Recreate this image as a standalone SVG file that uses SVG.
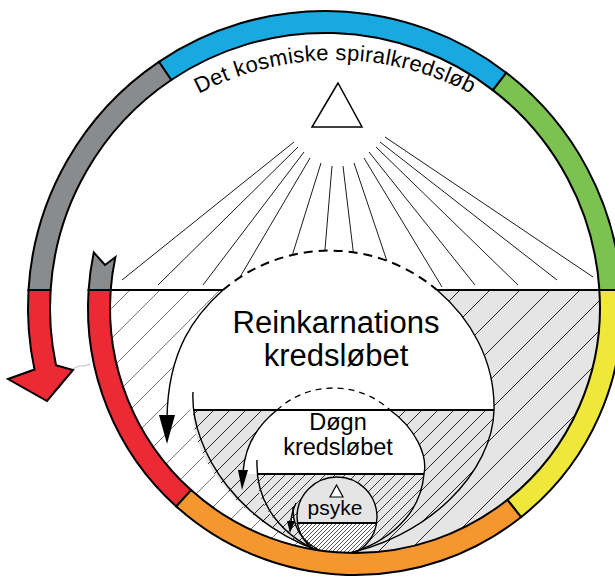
<svg xmlns="http://www.w3.org/2000/svg" width="615" height="582" viewBox="0 0 615 582">
<defs>
<style>
.seg{stroke:#000;stroke-width:2;stroke-linejoin:miter}
.ln{fill:none;stroke:#000;stroke-width:1.8}
.arc{fill:none;stroke:#000;stroke-width:1.4}
.ray{stroke:#000;stroke-width:0.9}
.dash1{fill:none;stroke:#000;stroke-width:2;stroke-dasharray:9 6}
.dash2{fill:none;stroke:#000;stroke-width:1.3;stroke-dasharray:6 5}
.head{fill:#000}
.gray{fill:#e5e5e5}
.white{fill:#fff}
text{font-family:"Liberation Sans",Arial,sans-serif;fill:#000}
</style>
<pattern id="hA" patternUnits="userSpaceOnUse" width="30" height="30"><path d="M-5,5 L5,-5 M0,30 L30,0 M25,35 L35,25" stroke="#111" stroke-width="0.9"/></pattern>
<pattern id="hA2" patternUnits="userSpaceOnUse" width="30" height="30"><path d="M-5,5 L5,-5 M0,30 L30,0 M25,35 L35,25" stroke="#555" stroke-width="0.8"/></pattern>
<pattern id="hB" patternUnits="userSpaceOnUse" width="16" height="16"><path d="M-4,4 L4,-4 M0,16 L16,0 M12,20 L20,12" stroke="#111" stroke-width="0.9"/></pattern>
<pattern id="hC" patternUnits="userSpaceOnUse" width="10" height="10"><path d="M-3,3 L3,-3 M0,10 L10,0 M7,13 L13,7" stroke="#111" stroke-width="0.8"/></pattern>
<pattern id="hD" patternUnits="userSpaceOnUse" width="4" height="4"><path d="M-1,1 L1,-1 M0,4 L4,0 M3,5 L5,3" stroke="#111" stroke-width="0.7"/></pattern>
<path id="titleArc" d="M43,352 A292,292 0 0 1 627,352"/>
</defs>

<g id="cosmic">
  <path d="M99.6,290 L610.4,290 A256,256 0 1 1 99.6,290 Z" class="white"/>
  <path d="M99.6,290 L610.4,290 A256,256 0 1 1 99.6,290 Z" fill="url(#hA2)"/>
  <path id="cosmic-gray" d="M437,290 L610.4,290 A256,256 0 0 1 335,563 L335,556 C430,540 493,470 494,410 C495,360 470,318 437,290 Z" class="gray"/>
  <path d="M437,290 L610.4,290 A256,256 0 0 1 335,563 L335,556 C430,540 493,470 494,410 C495,360 470,318 437,290 Z" fill="url(#hA)"/>
  <polygon points="338,83 312,127 362,127" fill="#fff" stroke="#000" stroke-width="1.5"/>
  <g id="rays">
    <line class="ray" x1="294" y1="142" x2="122" y2="280"/>
    <line class="ray" x1="298" y1="147" x2="158" y2="285"/>
    <line class="ray" x1="304" y1="152" x2="203" y2="285"/>
    <line class="ray" x1="310" y1="158" x2="240" y2="277"/>
    <line class="ray" x1="321" y1="163" x2="283" y2="285"/>
    <line class="ray" x1="332" y1="166" x2="322" y2="285"/>
    <line class="ray" x1="343" y1="166" x2="357" y2="283"/>
    <line class="ray" x1="354" y1="163" x2="395" y2="285"/>
    <line class="ray" x1="364" y1="158" x2="442" y2="287"/>
    <line class="ray" x1="369" y1="152" x2="475" y2="285"/>
    <line class="ray" x1="376" y1="147" x2="518" y2="285"/>
    <line class="ray" x1="380" y1="142" x2="557" y2="280"/>
    <line class="ray" x1="385" y1="137" x2="593" y2="277"/>
  </g>
  <text font-size="22" letter-spacing="0.3"><textPath href="#titleArc" startOffset="50%" text-anchor="middle">Det kosmiske spiralkredsløb</textPath></text>
</g>

<g id="reinkarnation">
  <path d="M223,290 A165,165 0 0 1 437,290 C470,318 495,360 494,410 L167,410 C168,350 195,315 223,290 Z" class="white"/>
  <path d="M193,410 L494,410 C493,470 430,540 335,556 C240,530 190,455 193,410 Z" class="gray"/>
  <path d="M193,410 L494,410 C493,470 430,540 335,556 C240,530 190,455 193,410 Z" fill="url(#hB)"/>
  <path class="dash1" d="M223,290 A165,165 0 0 1 437,290"/>
  <text font-size="31" text-anchor="middle" x="336" y="333">Reinkarnations</text>
  <text font-size="31" text-anchor="middle" x="336" y="366">kredsløbet</text>
</g>

<g id="dogn">
  <path d="M277,410 A83.5,83.5 0 0 1 390,410 C415,428 428,455 424,474 L244,474 C245,445 258,425 277,410 Z" class="white"/>
  <path d="M257,474 L424,474 C420,520 380,548 337,556 C290,545 255,510 257,474 Z" class="gray"/>
  <path d="M257,474 L424,474 C420,520 380,548 337,556 C290,545 255,510 257,474 Z" fill="url(#hC)"/>
  <path class="dash2" d="M277,410 A83.5,83.5 0 0 1 390,410"/>
  <text font-size="23.5" text-anchor="middle" x="338" y="430">Døgn</text>
  <text font-size="23.5" text-anchor="middle" x="338" y="455">kredsløbet</text>
</g>

<g id="psyke">
  <path d="M297.5,523 A40,40 0 1 1 376.5,523 Z" class="gray"/>
  <path d="M297.5,523 A40,40 0 0 0 376.5,523 Z" class="white"/>
  <path d="M297.5,523 A40,40 0 0 0 376.5,523 Z" fill="url(#hD)"/>
  <circle cx="337" cy="517" r="40" fill="none" stroke="#000" stroke-width="1.4"/>
  <polygon points="336.5,485 330,497 343,497" fill="#fff" stroke="#000" stroke-width="1.2"/>
  <text font-size="21" text-anchor="middle" x="335" y="515">psyke</text>
</g>

<g id="connectors">
  <path class="ln" d="M110.7,290 L223,290 M437,290 L599.4,290" stroke-width="2"/>
  <path class="ln" d="M193,410 L494,410"/>
  <path class="ln" d="M257,474 L424,474"/>
  <path class="ln" d="M297.5,523 L376.5,523"/>
  <path class="arc" d="M437,290 C470,318 495,360 494,410 C493,470 430,540 335,556" stroke-width="1.8"/>
  <path class="arc" d="M223,290 C195,315 168,350 167,418" stroke-width="1.8"/>
  <polygon class="head" points="159,415 175,415 167,444"/>
  <path class="arc" d="M193,392 C190,450 240,530 335,556"/>
  <path class="arc" d="M390,410 C415,428 428,455 424,474 C420,520 380,548 337,556"/>
  <path class="arc" d="M277,410 C258,425 245,445 243,472"/>
  <polygon class="head" points="238,470 248,470 242,490"/>
  <path class="arc" d="M257,460 C255,510 290,545 337,557" stroke-width="1.2"/>
  <path class="arc" d="M293,507 C292,532 308,550 337,556" stroke-width="1"/>
  <path class="arc" d="M296,503 C293,510 291,515 291,522" stroke-width="1.1"/>
  <polygon class="head" points="287,521 295,521 290,533"/>
  <path d="M73,369 L79,366 L84,366 L90,364" fill="none" stroke="#bbb" stroke-width="1"/>
</g>

<g id="ring">
  <path class="seg" fill="#898b8d" d="M93.8,252.5 A267,267 0 0 0 88.6,290 L110.7,290 A245,245 0 0 1 115.4,257.1 L105,265 Z"/>
  <path class="seg" fill="#ec2a35" d="M88.6,290 A267,267 0 0 0 176.3,506.4 L191.1,490.1 A245,245 0 0 1 110.7,290 Z"/>
  <path class="seg" fill="#f6962e" d="M176.3,506.4 A267,267 0 0 0 521.2,517 L507.5,499.7 A245,245 0 0 1 191.1,490.1 Z"/>
  <path class="seg" fill="#efe83b" d="M521.2,517 A267,267 0 0 0 621.4,290 L599.3,290 A245,245 0 0 1 507.5,499.7 Z"/>
  <path class="seg" fill="#7cc251" d="M621.5,290 A297,297 0 0 0 506.2,72.7 L492.8,90.1 A275,275 0 0 1 599.4,290 Z"/>
  <path class="seg" fill="#19a9e1" d="M506.2,72.7 A297,297 0 0 0 158.9,61.8 L171.2,80 A275,275 0 0 1 492.8,90.1 Z"/>
  <path class="seg" fill="#898b8d" d="M158.9,61.8 A297,297 0 0 0 28.5,290 L50.6,290 A275,275 0 0 1 171.2,80 Z"/>
  <path class="seg" fill="#ec2a35" d="M28.5,290 A297,297 0 0 0 34.5,369.5 L8,379 L47,401 L73,370 L56,365.2 A275,275 0 0 1 50.6,290 Z"/>
</g>
</svg>
